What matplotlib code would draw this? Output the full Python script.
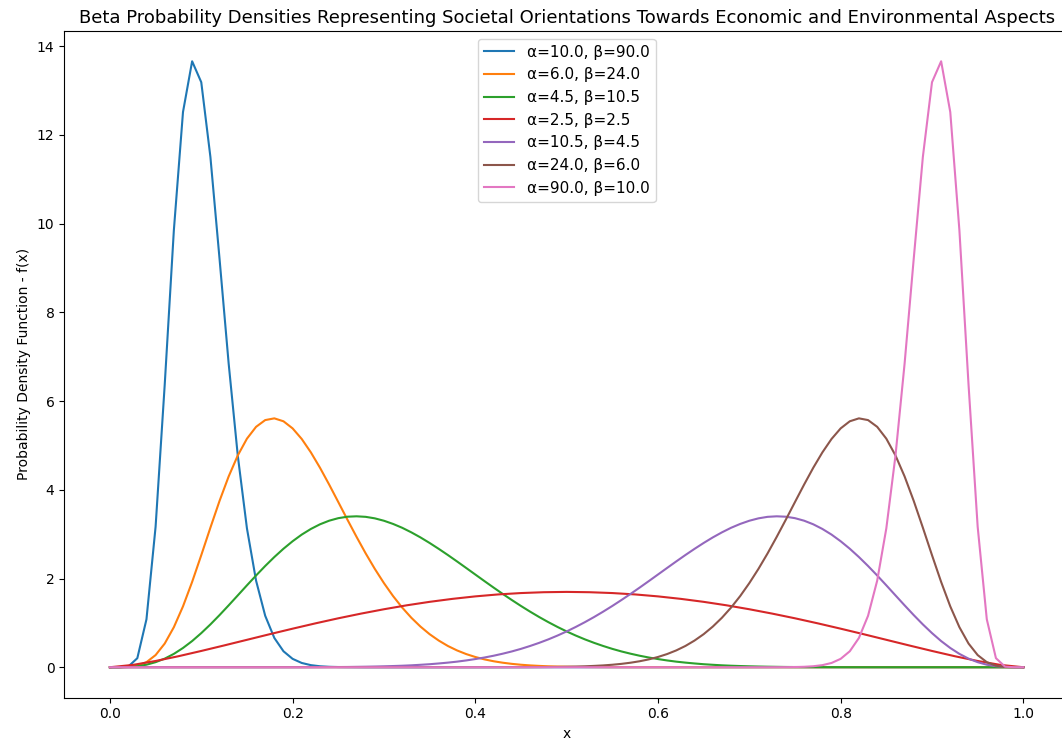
import matplotlib
matplotlib.use("Agg")
import matplotlib.pyplot as plt
import numpy as np

# parametros de cada distribucion beta
alphas = [10.0, 6.0, 4.5, 2.5, 10.5, 24.0, 90.0]
betas = [90.0, 24.0, 10.5, 2.5, 4.5, 6.0, 10.0]

# rejillas de x (la gruesa solo para la curva roja, que es suave)
x_fine = np.linspace(0, 1, 101)
x_coarse = np.linspace(0, 1, 41)

# valores
blue_y = [0.0, 0.0001, 0.013, 0.204, 1.080, 3.167, 6.372, 9.850, 12.515, 13.659,
          13.187, 11.504, 9.208, 6.844, 4.766, 3.131, 1.952, 1.160, 0.660, 0.360,
          0.189, 0.096, 0.047, 0.022, 0.010, 0.0045, 0.002, 0.001] + [0.0] * 73
orange_y = [0.0, 0.0002, 0.006, 0.034, 0.114, 0.274, 0.534, 0.903, 1.372, 1.923,
            2.526, 3.146, 3.749, 4.301, 4.775, 5.152, 5.419, 5.571, 5.610, 5.544,
            5.384, 5.145, 4.843, 4.496, 4.118, 3.724, 3.327, 2.939, 2.566, 2.217,
            1.896, 1.604, 1.344, 1.115, 0.916, 0.745, 0.601, 0.479, 0.379, 0.297,
            0.231, 0.177, 0.135, 0.102, 0.076, 0.056, 0.041, 0.030, 0.021, 0.015,
            0.011, 0.007, 0.005, 0.0035, 0.0024, 0.0016, 0.001, 0.0007, 0.0004, 0.0003,
            0.0002] + [0.0] * 40
green_y = [0.0, 0.0006, 0.006, 0.023, 0.057, 0.114, 0.194, 0.301, 0.434, 0.590,
           0.769, 0.965, 1.175, 1.395, 1.620, 1.846, 2.068, 2.282, 2.484, 2.671,
           2.840, 2.990, 3.117, 3.222, 3.303, 3.360, 3.393, 3.402, 3.390, 3.356,
           3.302, 3.230, 3.143, 3.040, 2.926, 2.801, 2.668, 2.529, 2.385, 2.238,
           2.090, 1.942, 1.796, 1.653, 1.515, 1.381, 1.253, 1.131, 1.016, 0.908,
           0.807, 0.714, 0.628, 0.550, 0.479, 0.414, 0.356, 0.305, 0.259, 0.219,
           0.184, 0.153, 0.126, 0.104, 0.085, 0.068, 0.055, 0.043, 0.034, 0.027,
           0.021, 0.016, 0.012, 0.009, 0.006, 0.0046, 0.0033, 0.0023, 0.0016, 0.0011,
           0.0008, 0.0005, 0.0003, 0.0002, 0.0001] + [0.0] * 16
red_y = [0.0, 0.052, 0.141, 0.248, 0.367, 0.491, 0.618, 0.745, 0.869, 0.989,
         1.103, 1.209, 1.307, 1.396, 1.474, 1.541, 1.597, 1.641, 1.672, 1.691,
         1.698, 1.691, 1.672, 1.641, 1.597, 1.541, 1.474, 1.396, 1.307, 1.209,
         1.103, 0.989, 0.869, 0.745, 0.618, 0.491, 0.367, 0.248, 0.141, 0.052, 0.0]
purple_y = [0.0] * 16 + [
    0.0001, 0.0002, 0.0003, 0.0005, 0.0008, 0.0011, 0.0016, 0.0023, 0.0033, 0.0046,
    0.006, 0.009, 0.012, 0.016, 0.021, 0.027, 0.034, 0.043, 0.055, 0.068,
    0.085, 0.104, 0.126, 0.153, 0.184, 0.219, 0.259, 0.305, 0.356, 0.414,
    0.479, 0.550, 0.628, 0.714, 0.807, 0.908, 1.016, 1.131, 1.253, 1.381,
    1.515, 1.653, 1.796, 1.942, 2.090, 2.238, 2.385, 2.529, 2.668, 2.801,
    2.926, 3.040, 3.143, 3.230, 3.302, 3.356, 3.390, 3.402, 3.393, 3.360,
    3.303, 3.222, 3.117, 2.990, 2.840, 2.671, 2.484, 2.282, 2.068, 1.846,
    1.620, 1.395, 1.175, 0.965, 0.769, 0.590, 0.434, 0.301, 0.194, 0.114,
    0.057, 0.023, 0.006, 0.0006, 0.0]
brown_y = [0.0] * 40 + [
    0.0002, 0.0003, 0.0004, 0.0007, 0.001, 0.0016, 0.0024, 0.0035, 0.005, 0.007,
    0.011, 0.015, 0.021, 0.030, 0.041, 0.056, 0.076, 0.102, 0.135, 0.177,
    0.231, 0.297, 0.379, 0.479, 0.601, 0.745, 0.916, 1.115, 1.344, 1.604,
    1.896, 2.217, 2.566, 2.939, 3.327, 3.724, 4.118, 4.496, 4.843, 5.145,
    5.384, 5.544, 5.610, 5.571, 5.419, 5.152, 4.775, 4.301, 3.749, 3.146,
    2.526, 1.923, 1.372, 0.903, 0.534, 0.274, 0.114, 0.034, 0.006, 0.0002, 0.0]
pink_y = [0.0] * 73 + [0.001, 0.002, 0.0045, 0.010, 0.022, 0.047, 0.096, 0.189,
          0.360, 0.660, 1.160, 1.952, 3.131, 4.766, 6.844, 9.208, 11.504, 13.187,
          13.659, 12.515, 9.850, 6.372, 3.167, 1.080, 0.204, 0.013, 0.0001, 0.0]

curves = [(x_fine, blue_y), (x_fine, orange_y), (x_fine, green_y),
          (x_coarse, red_y), (x_fine, purple_y), (x_fine, brown_y),
          (x_fine, pink_y)]

fig = plt.figure(figsize=(10.62, 7.43), dpi=100)
# la captura original esta recortada por la derecha
ax = fig.add_axes([0.0605, 0.0612, 0.9461, 0.8971])

for (xs, ys), a, b in zip(curves, alphas, betas):
    ax.plot(xs, ys, label=f"α={a}, β={b}")

ax.set_title("Beta Probability Densities Representing Societal Orientations Towards Economic and Environmental Aspects",
             fontsize=13)
ax.set_xlabel("x")
ax.set_ylabel("Probability Density Function - f(x)")
ax.legend(loc="upper center", fontsize=11)

fig.savefig("out.png", dpi=100)
